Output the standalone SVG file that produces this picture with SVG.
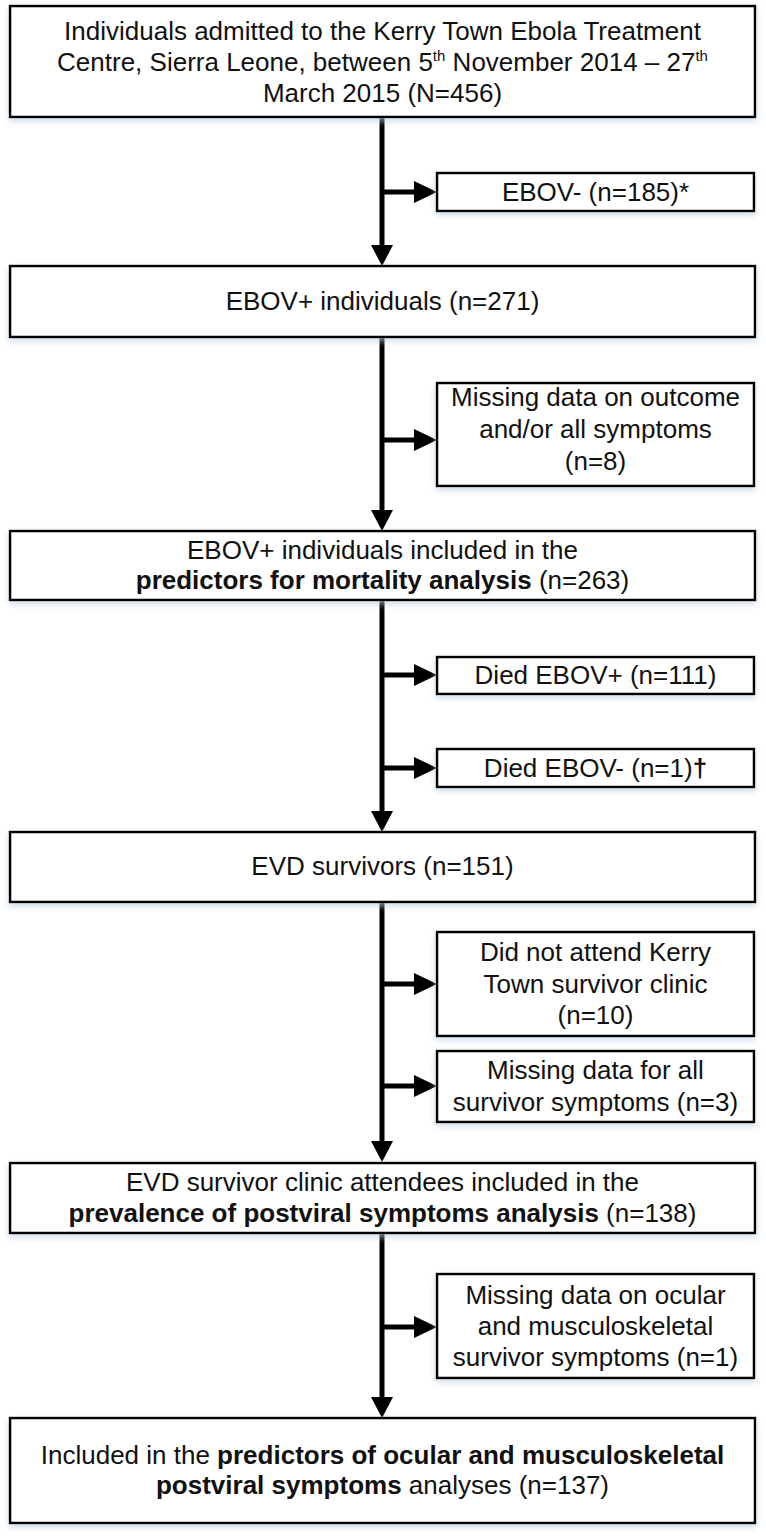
<svg xmlns="http://www.w3.org/2000/svg" width="766" height="1540" viewBox="0 0 766 1540">
<style>
.box{fill:#fff;stroke:#000;stroke-width:2.5;filter:url(#sh)}
.t{font-family:"Liberation Sans",Arial,sans-serif;font-size:26px;fill:#111;text-anchor:middle}
.b{font-weight:bold}
.sup{font-size:15px}
.ln{stroke:#000;stroke-width:5;fill:none}
.ah{fill:#000}
</style>
<defs>
<filter id="sh" x="-5%" y="-20%" width="110%" height="140%">
<feDropShadow dx="0" dy="3" stdDeviation="3" flood-color="#b8cde0" flood-opacity="0.7"/>
</filter>
</defs>
<rect width="766" height="1540" fill="#fff"/>
<g id="connectors">
<path class="ln" d="M382 117V246"/>
<path class="ah" d="M371 245H393L382 266Z"/>
<path class="ln" d="M382 192H416"/>
<path class="ah" d="M414 181L437 192L414 203Z"/>

<path class="ln" d="M382 337V511"/>
<path class="ah" d="M371 510H393L382 531Z"/>
<path class="ln" d="M382 440H416"/>
<path class="ah" d="M414 429L437 440L414 451Z"/>

<path class="ln" d="M382 600V812"/>
<path class="ah" d="M371 811H393L382 832Z"/>
<path class="ln" d="M382 675H416"/>
<path class="ah" d="M414 664L437 675L414 686Z"/>
<path class="ln" d="M382 768H416"/>
<path class="ah" d="M414 757L437 768L414 779Z"/>

<path class="ln" d="M382 902V1142"/>
<path class="ah" d="M371 1141H393L382 1162Z"/>
<path class="ln" d="M382 984H416"/>
<path class="ah" d="M414 973L437 984L414 995Z"/>
<path class="ln" d="M382 1086H416"/>
<path class="ah" d="M414 1075L437 1086L414 1097Z"/>

<path class="ln" d="M382 1233V1398"/>
<path class="ah" d="M371 1397H393L382 1418Z"/>
<path class="ln" d="M382 1327H416"/>
<path class="ah" d="M414 1316L437 1327L414 1338Z"/>
</g>

<g id="n1">
<rect class="box" x="10" y="6" width="745" height="111"/>
<text class="t" x="382.5" y="39.5">Individuals admitted to the Kerry Town Ebola Treatment</text>
<text class="t" x="382.5" y="71">Centre, Sierra Leone, between 5<tspan class="sup" dy="-10">th</tspan><tspan dy="10"> November 2014 – 27</tspan><tspan class="sup" dy="-10">th</tspan></text>
<text class="t" x="382.5" y="102">March 2015 (N=456)</text>
</g>
<g id="n2">
<rect class="box" x="437" y="173" width="317" height="38"/>
<text class="t" x="595.5" y="201">EBOV- (n=185)*</text>
</g>
<g id="n3">
<rect class="box" x="10" y="266" width="745" height="71"/>
<text class="t" x="382.5" y="310">EBOV+ individuals (n=271)</text>
</g>
<g id="n4">
<rect class="box" x="437" y="383" width="317" height="103"/>
<text class="t" x="595.5" y="406">Missing data on outcome</text>
<text class="t" x="595.5" y="438">and/or all symptoms</text>
<text class="t" x="595.5" y="470">(n=8)</text>
</g>
<g id="n5">
<rect class="box" x="10" y="531" width="745" height="69"/>
<text class="t" x="382.5" y="559">EBOV+ individuals included in the</text>
<text class="t" x="382.5" y="589"><tspan class="b">predictors for mortality analysis</tspan> (n=263)</text>
</g>
<g id="n6">
<rect class="box" x="437" y="657" width="317" height="37"/>
<text class="t" x="595.5" y="684">Died EBOV+ (n=111)</text>
</g>
<g id="n7">
<rect class="box" x="437" y="749" width="317" height="38"/>
<text class="t" x="595.5" y="777">Died EBOV- (n=1)<tspan class="b">†</tspan></text>
</g>
<g id="n8">
<rect class="box" x="10" y="832" width="745" height="70"/>
<text class="t" x="382.5" y="875">EVD survivors (n=151)</text>
</g>
<g id="n9">
<rect class="box" x="437" y="932" width="317" height="104"/>
<text class="t" x="595.5" y="961">Did not attend Kerry</text>
<text class="t" x="595.5" y="993">Town survivor clinic</text>
<text class="t" x="595.5" y="1024">(n=10)</text>
</g>
<g id="n10">
<rect class="box" x="437" y="1051" width="317" height="71"/>
<text class="t" x="595.5" y="1079">Missing data for all</text>
<text class="t" x="595.5" y="1111">survivor symptoms (n=3)</text>
</g>
<g id="n11">
<rect class="box" x="10" y="1163" width="745" height="70"/>
<text class="t" x="382.5" y="1191">EVD survivor clinic attendees included in the</text>
<text class="t" x="382.5" y="1222"><tspan class="b">prevalence of postviral symptoms analysis</tspan> (n=138)</text>
</g>
<g id="n12">
<rect class="box" x="437" y="1274" width="317" height="104"/>
<text class="t" x="595.5" y="1304">Missing data on ocular</text>
<text class="t" x="595.5" y="1335">and musculoskeletal</text>
<text class="t" x="595.5" y="1366">survivor symptoms (n=1)</text>
</g>
<g id="n13">
<rect class="box" x="10" y="1418" width="745" height="105"/>
<text class="t" x="382.5" y="1464">Included in the <tspan class="b">predictors of ocular and musculoskeletal</tspan></text>
<text class="t" x="382.5" y="1494"><tspan class="b">postviral symptoms</tspan> analyses (n=137)</text>
</g>
</svg>
